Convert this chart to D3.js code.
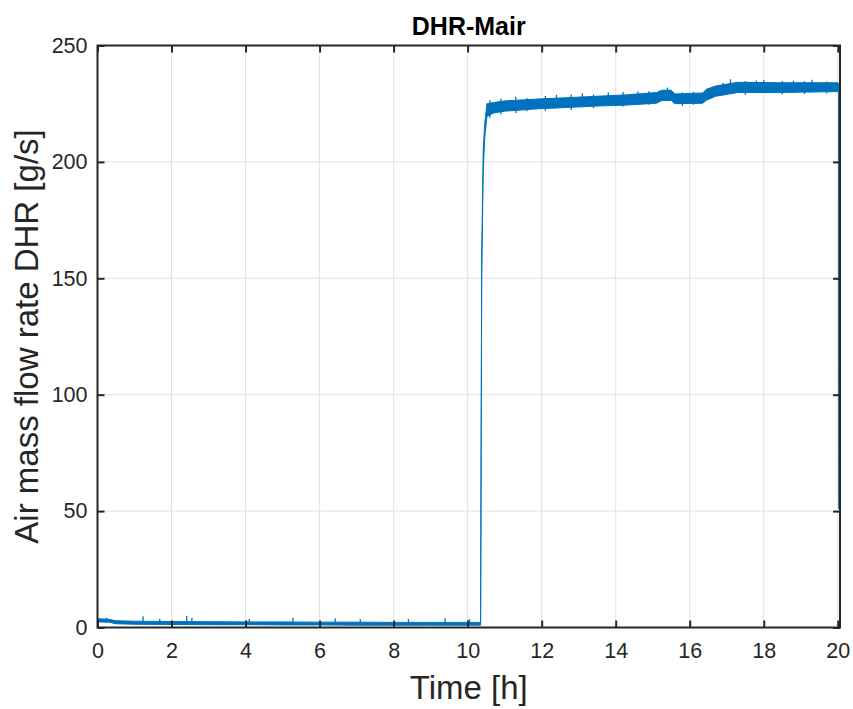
<!DOCTYPE html>
<html>
<head>
<meta charset="utf-8">
<script src="https://cdn.jsdelivr.net/npm/d3@7"></script>
<style>
  html, body { margin: 0; padding: 0; background: #fff; }
  svg { display: block; font-family: "Liberation Sans", Arial, Helvetica, sans-serif; }
</style>
</head>
<body>
<svg id="chart" width="853" height="709"></svg>
<script>
// Air mass flow measured on the DHR loop, stored as a min/max envelope
// per time sample (the raw signal is noisy, so each sample keeps its band).
const timeH = [0, 0.3, 0.5, 1, 2, 3, 4, 5, 6, 7, 8, 9, 10, 10.35,
  10.38, 10.42, 10.46, 10.52, 10.7, 11.0, 11.9, 12.7, 13.5, 14.3, 15.1,
  15.25, 15.5, 15.6, 16.35, 16.45, 16.7, 17.3, 18.4, 20.0, 20.025, 20.03];
const flowLow = [2.4, 2.3, 1.6, 1.4, 1.3, 1.2, 1.2, 1.1, 1.1, 1.0, 1.0, 1.0, 1.0, 1.0,
  150, 195, 210, 219.5, 221.0, 221.8, 222.8, 223.4, 224.0, 224.4, 225.2,
  226.4, 226.4, 225.0, 225.2, 226.5, 228.2, 229.8, 229.8, 230.2, 230.0, 51];
const flowHigh = [3.8, 3.5, 2.9, 2.7, 2.6, 2.5, 2.4, 2.4, 2.3, 2.3, 2.2, 2.2, 2.2, 2.2,
  160, 205, 216, 225, 225.5, 226.2, 227.0, 227.6, 228.2, 228.8, 229.8,
  230.8, 230.8, 229.2, 229.6, 231.2, 232.6, 234.2, 234.0, 234.0, 233.8, 53];

// Isolated noise spikes that stick out of the band
const spikeTime = [0.25, 1.23, 1.68, 2.41, 2.55, 4.1, 5.28, 6.42, 7.1, 8.4, 9.39, 10.05,
  10.6, 10.9, 11.3, 11.6, 12.1, 12.4, 12.8, 13.1, 13.4, 13.8, 14.2, 14.6, 14.9,
  15.4, 15.8, 16.1, 16.9, 17.1, 17.5, 17.8, 18.0, 18.5, 18.8, 19.1, 19.3, 19.7];
const spikeLow = [2.4, 1.4, 1.3, 1.3, 1.3, 1.2, 1.1, 1.1, 1.0, 1.0, 1.0, 1.0,
  219.0, 220.5, 221.0, 221.8, 222.0, 223.0, 222.3, 223.5, 223.2, 224.1, 223.8, 224.5, 224.6,
  226.0, 224.0, 224.6, 228.5, 229.5, 228.8, 229.6, 229.7, 228.9, 229.7, 229.2, 229.9, 229.4];
const spikeHigh = [4.3, 4.8, 3.8, 5.0, 4.2, 3.6, 4.2, 4.0, 3.5, 3.6, 4.0, 3.5,
  226.5, 227.2, 228.0, 227.4, 228.3, 228.8, 228.9, 229.5, 229.0, 229.8, 230.0, 230.2, 230.4,
  232.0, 229.8, 230.1, 234.0, 235.5, 234.8, 235.0, 235.2, 234.7, 234.9, 234.6, 235.3, 234.5];

const xTicks = [0, 2, 4, 6, 8, 10, 12, 14, 16, 18, 20];
const yTicks = [0, 50, 100, 150, 200, 250];

const svg = d3.select("#chart");
const margin = { left: 97.5, right: 13, top: 45.5, bottom: 81.5 };
const W = 853, H = 709;
const axisColor = "#262626";
const lineColor = "#0072BD";

const x = d3.scaleLinear().domain([0, 20.06]).range([margin.left, W - margin.right]);
const y = d3.scaleLinear().domain([0, 250]).range([H - margin.bottom, margin.top]);

// Grid
const grid = svg.append("g").attr("stroke", "#e2e2e2").attr("stroke-width", 1);
grid.selectAll("line.gx").data(xTicks).join("line")
  .attr("x1", d => x(d)).attr("x2", d => x(d))
  .attr("y1", y(0)).attr("y2", y(250));
grid.selectAll("line.gy").data(yTicks).join("line")
  .attr("y1", d => y(d)).attr("y2", d => y(d))
  .attr("x1", x(0)).attr("x2", x(20.06));

// Data, clipped to the plot box
svg.append("clipPath").attr("id", "plotClip").append("rect")
  .attr("x", x(0)).attr("y", y(250))
  .attr("width", x(20.06) - x(0)).attr("height", y(0) - y(250));

const series = timeH.map((t, i) => ({ t, lo: flowLow[i], hi: flowHigh[i] }));
const band = d3.area().x(d => x(d.t)).y0(d => y(d.lo)).y1(d => y(d.hi));
const dataG = svg.append("g").attr("clip-path", "url(#plotClip)");
dataG.append("path").datum(series)
  .attr("d", band)
  .attr("fill", lineColor)
  .attr("stroke", lineColor)
  .attr("stroke-width", 1)
  .attr("stroke-linejoin", "round");

const spikes = spikeTime.map((t, i) => ({ t, lo: spikeLow[i], hi: spikeHigh[i] }));
dataG.selectAll("line.spike").data(spikes).join("line")
  .attr("x1", d => x(d.t)).attr("x2", d => x(d.t))
  .attr("y1", d => y(d.lo)).attr("y2", d => y(d.hi))
  .attr("stroke", lineColor).attr("stroke-width", 1.3);

// Axes box with inward ticks on all four sides
const tickLen = 7;
const xAxisB = d3.axisBottom(x).tickValues(xTicks).tickSizeInner(-tickLen).tickSizeOuter(0).tickPadding(15.5);
const xAxisT = d3.axisTop(x).tickValues(xTicks).tickSizeInner(-tickLen).tickSizeOuter(0).tickFormat("");
const yAxisL = d3.axisLeft(y).tickValues(yTicks).tickSizeInner(-tickLen).tickSizeOuter(0).tickPadding(10);
const yAxisR = d3.axisRight(y).tickValues(yTicks).tickSizeInner(-tickLen).tickSizeOuter(0).tickFormat("");

function style(g) {
  g.select(".domain").remove();
  g.selectAll(".tick line").attr("stroke", axisColor).attr("stroke-width", 2);
  g.selectAll(".tick text").attr("fill", axisColor).attr("font-size", 21.5)
    .attr("font-family", "'Liberation Sans', Arial, sans-serif");
}
svg.append("g").attr("transform", `translate(0,${y(0)})`).call(xAxisB).call(style);
svg.append("g").attr("transform", `translate(0,${y(250)})`).call(xAxisT).call(style);
svg.append("g").attr("transform", `translate(${x(0)},0)`).call(yAxisL).call(style);
svg.append("g").attr("transform", `translate(${x(20.06)},0)`).call(yAxisR).call(style);

svg.append("rect")
  .attr("x", x(0)).attr("y", y(250))
  .attr("width", x(20.06) - x(0)).attr("height", y(0) - y(250))
  .attr("fill", "none").attr("stroke", axisColor).attr("stroke-width", 2);

// Labels
svg.append("text")
  .attr("x", (x(0) + x(20.06)) / 2).attr("y", 35)
  .attr("text-anchor", "middle").attr("font-weight", "bold")
  .attr("font-size", 25).attr("fill", "#000")
  .text("DHR-Mair");

svg.append("text")
  .attr("x", (x(0) + x(20.06)) / 2).attr("y", 699)
  .attr("text-anchor", "middle").attr("font-size", 33).attr("fill", axisColor)
  .text("Time [h]");

svg.append("text")
  .attr("transform", `translate(38,${(y(0) + y(250)) / 2}) rotate(-90)`)
  .attr("text-anchor", "middle").attr("font-size", 33).attr("fill", axisColor)
  .text("Air mass flow rate DHR [g/s]");
</script>
</body>
</html>
